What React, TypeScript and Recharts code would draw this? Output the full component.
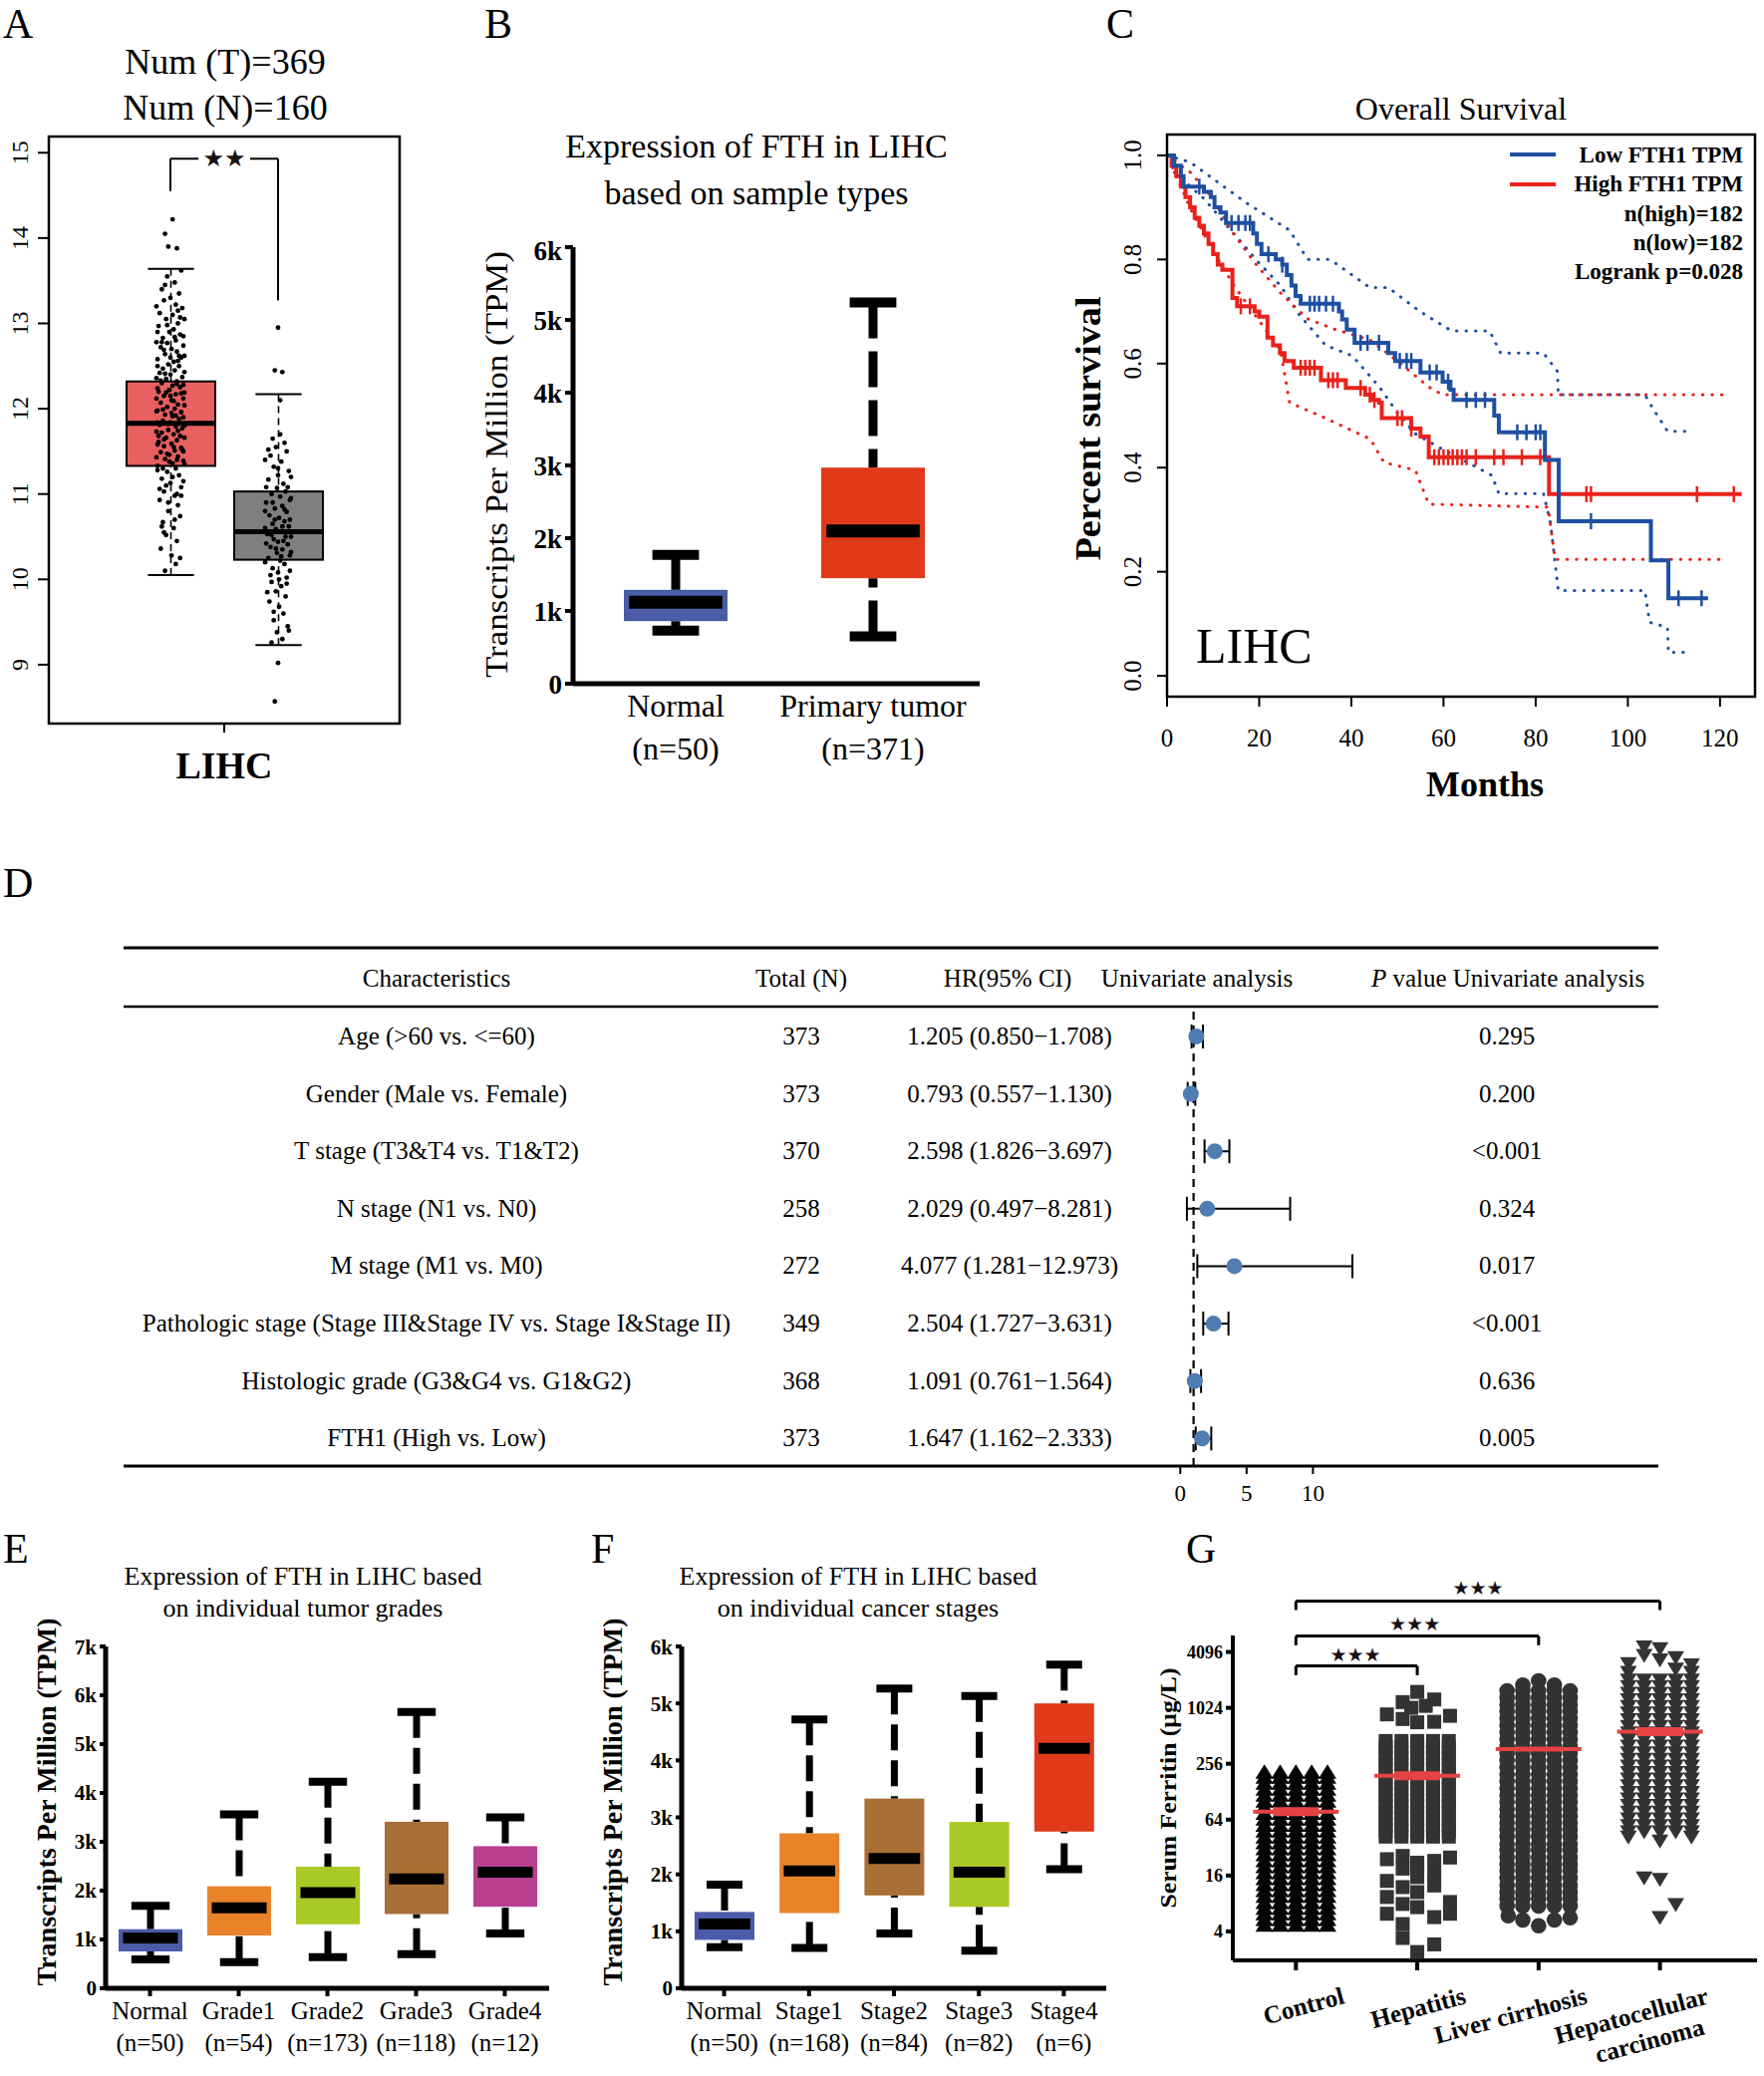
import React from "react";
import { Bar, ComposedChart, ErrorBar, Line, ReferenceDot, ReferenceLine, Scatter, XAxis, YAxis } from "recharts";

const SERIF = "'Liberation Serif', 'Times New Roman', serif";
const SYMBOL = "'DejaVu Sans', sans-serif";
const INK = "#000";

// ---------- A: GEPIA box + jitter
const aGroups = ["Tumor", "Normal"];
const aMin = [10.05, 9.23];
const aQ1 = [11.33, 10.23];
const aMed = [11.83, 10.56];
const aQ3 = [12.32, 11.03];
const aMax = [13.64, 12.17];
const aTicks = [9, 10, 11, 12, 13, 14, 15];
const aAxisLabel = "LIHC";
const aTumorDots = [
  [0.02, 14.22], [-0.05, 14.05], [-0.02, 13.9], [0.06, 13.88], [0.1, 13.62], [-0.03, 13.55], [0.04, 13.48], [-0.08, 13.4],
  [0.08, 13.35], [0.0, 13.3], [-0.06, 13.27], [0.05, 13.22], [0.11, 13.18], [-0.1, 13.12], [0.02, 13.1], [-0.04, 13.05],
  [0.07, 13.0], [-0.11, 12.97], [0.03, 12.93], [-0.01, 12.9], [0.09, 12.87], [-0.07, 12.83], [0.05, 12.8], [-0.03, 12.77],
  [0.12, 12.74], [-0.09, 12.72], [0.01, 12.7], [0.06, 12.67], [-0.05, 12.64], [0.1, 12.6], [-0.12, 12.58], [0.03, 12.55],
  [-0.02, 12.52], [0.08, 12.5], [-0.07, 12.47], [0.04, 12.45], [-0.1, 12.42], [0.0, 12.4], [0.11, 12.37], [-0.04, 12.35],
  [0.06, 12.32], [-0.08, 12.3], [0.02, 12.27], [0.09, 12.25], [-0.01, 12.22], [-0.11, 12.2], [0.05, 12.17], [-0.06, 12.15],
  [0.12, 12.12], [0.01, 12.1], [-0.09, 12.07], [0.07, 12.05], [-0.03, 12.02], [0.04, 12.0], [-0.12, 11.98], [0.1, 11.96],
  [-0.05, 11.93], [0.02, 11.91], [0.08, 11.88], [-0.07, 11.86], [0.0, 11.84], [-0.1, 11.81], [0.05, 11.79], [0.11, 11.77],
  [-0.02, 11.75], [-0.08, 11.72], [0.03, 11.7], [0.09, 11.68], [-0.04, 11.66], [0.06, 11.63], [-0.11, 11.61], [0.01, 11.59],
  [-0.06, 11.56], [0.1, 11.54], [0.04, 11.51], [-0.09, 11.49], [-0.01, 11.46], [0.07, 11.44], [-0.05, 11.41], [0.12, 11.39],
  [0.02, 11.36], [-0.12, 11.33], [0.05, 11.3], [-0.03, 11.26], [0.08, 11.22], [-0.08, 11.18], [0.0, 11.13], [0.1, 11.08],
  [-0.06, 11.03], [0.04, 10.98], [-0.1, 10.93], [0.07, 10.87], [-0.02, 10.8], [0.09, 10.74], [-0.07, 10.67], [0.03, 10.6],
  [-0.04, 10.52], [0.06, 10.45], [-0.09, 10.36], [0.01, 10.28], [0.05, 10.18], [-0.05, 10.1],
  [-0.13, 13.2], [0.13, 13.05], [-0.12, 12.9], [0.12, 12.85], [-0.13, 12.78], [0.13, 12.62], [-0.12, 12.5], [0.13, 12.43],
  [-0.13, 12.36], [0.12, 12.28], [-0.12, 12.24], [0.13, 12.19], [-0.13, 12.12], [0.13, 12.04], [-0.13, 11.97], [0.12, 11.9],
  [-0.12, 11.84], [0.13, 11.8], [-0.13, 11.73], [0.13, 11.66], [-0.12, 11.58], [0.12, 11.5], [-0.13, 11.43], [0.13, 11.35],
  [-0.12, 11.28], [0.12, 11.15], [-0.03, 12.98], [0.04, 12.84], [-0.06, 12.69], [0.07, 12.56], [-0.05, 12.41], [0.06, 12.29],
  [-0.04, 12.19], [0.03, 12.09], [-0.07, 11.99], [0.05, 11.92], [-0.02, 11.82], [0.07, 11.74], [-0.06, 11.64], [0.03, 11.55],
  [-0.03, 11.47], [0.06, 11.4], [-0.07, 11.3], [0.02, 11.2], [-0.04, 11.1], [0.06, 11.0], [-0.02, 10.9], [0.04, 10.7],
  [-0.06, 10.55], [0.09, 10.25], [-0.08, 10.62], [0.1, 10.98], [-0.1, 11.06], [0.11, 11.52], [-0.11, 11.68], [0.1, 12.18],
  [-0.09, 12.33], [0.08, 12.62], [-0.08, 12.78], [0.09, 13.07], [-0.05, 13.45], [0.07, 13.15], [0.0, 12.6], [0.01, 11.95],
  [-0.01, 11.38], [0.0, 12.15],
];
const aNormalDots = [
  [0.0, 12.95], [-0.03, 12.45], [0.04, 12.43], [0.02, 12.1], [-0.05, 11.65], [0.06, 11.6], [-0.02, 11.55], [0.08, 11.5],
  [-0.07, 11.45], [0.03, 11.38], [-0.04, 11.32], [0.1, 11.27], [0.0, 11.22], [-0.09, 11.17], [0.05, 11.12], [-0.01, 11.07],
  [0.07, 11.03], [-0.06, 11.0], [0.02, 10.97], [0.11, 10.93], [-0.11, 10.9], [0.04, 10.86], [-0.03, 10.83], [0.08, 10.79],
  [-0.08, 10.75], [0.01, 10.72], [0.06, 10.68], [-0.05, 10.65], [0.1, 10.62], [-0.02, 10.59], [0.03, 10.56], [-0.1, 10.53],
  [0.07, 10.5], [-0.04, 10.47], [0.0, 10.44], [0.09, 10.41], [-0.07, 10.38], [0.04, 10.35], [-0.01, 10.31], [0.11, 10.28],
  [-0.09, 10.25], [0.02, 10.22], [0.06, 10.18], [-0.05, 10.13], [0.0, 10.08], [0.08, 10.02], [-0.06, 9.97], [0.03, 9.92],
  [-0.02, 9.86], [0.07, 9.8], [-0.08, 9.74], [0.01, 9.68], [0.05, 9.6], [-0.04, 9.52], [0.09, 9.45], [-0.01, 9.38],
  [0.04, 9.3], [-0.06, 9.26], [0.0, 9.02], [-0.03, 8.57],
  [-0.12, 11.4], [0.12, 11.2], [-0.11, 11.08], [0.12, 10.95], [-0.12, 10.8], [0.11, 10.7], [-0.12, 10.6], [0.12, 10.5],
  [-0.11, 10.42], [0.12, 10.32], [-0.12, 10.2], [0.11, 10.1], [-0.05, 10.9], [0.06, 10.82], [-0.03, 10.7], [0.04, 10.62],
  [-0.06, 10.52], [0.05, 10.45], [-0.02, 10.36], [0.03, 10.27], [-0.07, 10.05], [0.08, 9.95], [-0.09, 11.52], [0.02, 11.7],
  [-0.04, 9.62], [0.1, 9.4], [0.01, 10.0], [-0.1, 9.85], [0.0, 11.3], [0.09, 11.08],
];
const aBracket = [[0, 14.55, 0, 14.93], [0, 14.93, 0.26, 14.93], [0.74, 14.93, 1, 14.93], [1, 14.93, 1, 13.27]];
const aStar = { x: 0.5, y: 14.93, text: "★★" };

// ---------- B: sample types
const bGroups = ["Normal", "Primary tumor"];
const bCounts = [50, 371];
const bMin = [730, 650];
const bQ1 = [860, 1450];
const bMed = [1120, 2100];
const bQ3 = [1290, 2970];
const bMax = [1770, 5240];
const bTicks = [0, 1000, 2000, 3000, 4000, 5000, 6000];
const bBracket = [[0, 5550, 0, 5630], [0, 5630, 1, 5630], [1, 5630, 1, 5550]];
const bStar = { x: 0.5, y: 5860, text: "★★" };

// ---------- C: Kaplan-Meier
const kmLow = [
  [0, 1], [1.5, 0.98], [3, 0.96], [3.6, 0.94], [8, 0.93], [9.5, 0.92], [10.3, 0.9], [11.6, 0.89], [12.8, 0.87], [18.7, 0.85],
  [19.5, 0.83], [20.5, 0.81], [23.6, 0.8], [25, 0.79], [26, 0.77], [27, 0.75], [27.9, 0.73], [29, 0.715], [37.3, 0.7],
  [38, 0.685], [39, 0.665], [40.7, 0.64], [48, 0.62], [49.5, 0.605], [55, 0.583], [59.8, 0.565], [61.5, 0.55], [62.2, 0.53],
  [71, 0.5], [72, 0.468], [82, 0.415], [85, 0.297], [105, 0.222], [108.8, 0.149], [117.4, 0.149],
];
const kmHigh = [
  [0, 1], [1, 0.98], [2, 0.96], [3, 0.94], [4, 0.92], [5, 0.9], [6, 0.88], [7, 0.865], [8, 0.85], [9, 0.83], [10, 0.81],
  [11, 0.79], [12, 0.78], [14.2, 0.726], [15.2, 0.71], [19, 0.7], [20, 0.69], [21.8, 0.65], [23, 0.635], [24.5, 0.62],
  [25.5, 0.605], [27.5, 0.592], [33.4, 0.568], [38.8, 0.553], [43, 0.54], [44.5, 0.53], [46, 0.525], [46.6, 0.495],
  [53, 0.475], [55, 0.46], [56.8, 0.42], [82.9, 0.349], [124.7, 0.349],
];
const kmLowUpper = [
  [0, 1], [5, 0.987], [17, 0.91], [26.6, 0.856], [30.5, 0.8], [35.4, 0.8], [44, 0.746], [48, 0.746], [54.9, 0.7], [61.7, 0.663],
  [70, 0.663], [72.4, 0.62], [81.7, 0.62], [84.7, 0.585], [84.9, 0.54], [103.7, 0.54], [105.7, 0.51], [108.6, 0.47], [114, 0.47],
];
const kmLowLower = [
  [1.6, 0.967], [8, 0.917], [12.9, 0.866], [19.7, 0.796], [24.6, 0.75], [28.5, 0.696], [34.4, 0.635], [40.2, 0.615],
  [46.1, 0.555], [50, 0.505], [53.9, 0.465], [59.8, 0.435], [64.2, 0.415], [70.5, 0.385], [72, 0.35], [81.7, 0.35],
  [83.2, 0.294], [84.9, 0.164], [103.7, 0.164], [104.7, 0.103], [108.6, 0.093], [108.8, 0.045], [114, 0.045],
];
const kmHighUpper = [
  [0, 1], [5.1, 0.967], [10, 0.917], [13.9, 0.856], [18.8, 0.796], [24.6, 0.736], [30.5, 0.686], [36.3, 0.666], [44.1, 0.645],
  [50, 0.605], [56.8, 0.555], [59.8, 0.54], [122, 0.54],
];
const kmHighLower = [
  [1.2, 0.977], [5.1, 0.897], [10, 0.816], [14.8, 0.746], [19.7, 0.686], [24.6, 0.626], [26.6, 0.525], [34.4, 0.495],
  [44.1, 0.455], [47.1, 0.41], [53.9, 0.395], [56.8, 0.33], [82.7, 0.324], [84.2, 0.224], [121.3, 0.224],
];
const kmLowCensor = [
  [7, 0.94], [14, 0.87], [15.5, 0.87], [17, 0.87], [18, 0.87], [22, 0.81], [25, 0.79], [31, 0.715], [32, 0.715], [33, 0.715],
  [34.5, 0.715], [36, 0.715], [42, 0.64], [43.5, 0.64], [46, 0.64], [50.5, 0.605], [52, 0.605], [53, 0.605], [57, 0.583],
  [58.5, 0.583], [61, 0.565], [65, 0.53], [67, 0.53], [69, 0.53], [76, 0.468], [78, 0.468], [80, 0.468], [81, 0.468],
  [92, 0.297], [111, 0.149], [116, 0.149],
];
const kmHighCensor = [
  [16, 0.71], [18, 0.71], [29, 0.592], [30, 0.592], [31, 0.592], [32, 0.592], [35, 0.568], [36, 0.568], [37, 0.568],
  [42, 0.553], [44, 0.54], [45, 0.53], [50, 0.495], [51, 0.495], [53, 0.475], [58, 0.42], [59, 0.42], [60, 0.42], [61, 0.42],
  [62, 0.42], [63, 0.42], [64, 0.42], [65, 0.42], [67, 0.42], [71, 0.42], [73, 0.42], [77, 0.42], [81, 0.42], [91, 0.349],
  [92, 0.349], [115, 0.349], [123, 0.349],
];
const kmXTicks = [0, 20, 40, 60, 80, 100, 120];
const kmYTicks = [0, 0.2, 0.4, 0.6, 0.8, 1];
const cLegend = ["Low FTH1 TPM", "High FTH1 TPM", "n(high)=182", "n(low)=182", "Logrank p=0.028"];

// ---------- D: univariate Cox table
const dItems = [
  "Age (>60 vs. <=60)", "Gender (Male vs. Female)", "T stage (T3&T4 vs. T1&T2)", "N stage (N1 vs. N0)",
  "M stage (M1 vs. M0)", "Pathologic stage (Stage III&Stage IV vs. Stage I&Stage II)",
  "Histologic grade (G3&G4 vs. G1&G2)", "FTH1 (High vs. Low)",
];
const dTotal = [373, 373, 370, 258, 272, 349, 368, 373];
const dHr = [1.205, 0.793, 2.598, 2.029, 4.077, 2.504, 1.091, 1.647];
const dLow = [0.85, 0.557, 1.826, 0.497, 1.281, 1.727, 0.761, 1.162];
const dHigh = [1.708, 1.13, 3.697, 8.281, 12.973, 3.631, 1.564, 2.333];
const dP = ["0.295", "0.200", "<0.001", "0.324", "0.017", "<0.001", "0.636", "0.005"];
const dTicks = [0, 5, 10];

// ---------- E: tumor grades
const eGroups = ["Normal", "Grade1", "Grade2", "Grade3", "Grade4"];
const eCounts = [50, 54, 173, 118, 12];
const eMin = [590, 535, 640, 700, 1120];
const eQ1 = [755, 1080, 1310, 1520, 1670];
const eMed = [1030, 1650, 1960, 2240, 2380];
const eQ3 = [1210, 2090, 2490, 3410, 2910];
const eMax = [1690, 3560, 4230, 5660, 3500];
const eTicks = [0, 1000, 2000, 3000, 4000, 5000, 6000, 7000];
const eBracket = [[0.17, 6500, 0.17, 6710], [0.17, 6710, 2.5, 6710], [2.5, 6710, 2.5, 6500], [1, 6500, 4, 6500]];
const eStar = { x: 1.33, y: 6930, text: "★★★" };

// ---------- F: cancer stages
const fGroups = ["Normal", "Stage1", "Stage2", "Stage3", "Stage4"];
const fCounts = [50, 168, 84, 82, 6];
const fMin = [720, 710, 960, 660, 2090];
const fQ1 = [850, 1320, 1630, 1430, 2750];
const fMed = [1130, 2060, 2280, 2040, 4210];
const fQ3 = [1340, 2720, 3330, 2920, 5000];
const fMax = [1820, 4720, 5260, 5130, 5680];
const fTicks = [0, 1000, 2000, 3000, 4000, 5000, 6000];
const fBracket = [[0, 5870, 0, 6020], [0, 6020, 2.51, 6020], [2.51, 6020, 2.51, 5870], [1, 5870, 4, 5870]];
const fStar = { x: 1.24, y: 6230, text: "★★★" };

// ---------- G: serum ferritin
const gGroups = ["Control", "Hepatitis", "Liver cirrhosis", "Hepatocellular\ncarcinoma"];
const gMedian = [78, 190, 367, 568];
const gTicks = [4, 16, 64, 256, 1024, 4096];
const gCols = [-0.26, -0.13, 0, 0.13, 0.26];
const gControlLevels = [4.6, 5.3, 6.1, 7.0, 8.1, 9.4, 10.9, 12.6, 14.6, 17, 19.7, 22.8, 26.4, 30.6, 35.5, 41, 47.5, 55, 64, 74, 86, 100, 116, 134, 156, 181, 205];
const gHepLevels = [42, 48, 56, 65, 76, 88, 102, 118, 137, 160, 186, 216, 250, 290, 336, 390, 450];
const gHepExtra = [
  [0, 1520], [-0.12, 1180], [0.14, 1260], [-0.25, 870], [0.27, 840], [-0.05, 1024], [0.07, 1075], [-0.12, 776], [0.14, 724],
  [0, 715], [-0.25, 24], [-0.12, 26], [0, 22], [0.14, 23], [0.27, 25], [-0.12, 19], [0, 20.5], [-0.25, 14], [-0.12, 12],
  [0, 15.4], [0.14, 16.7], [0.14, 12.5], [-0.25, 9.4], [-0.12, 7.9], [0, 10.6], [0.27, 8.3], [-0.25, 6.2], [-0.12, 4.8],
  [0, 7.3], [0.14, 5.7], [0.27, 6.2], [-0.12, 3.4], [0.14, 2.9], [0, 2.4],
];
const gLiverLevels = [7.5, 9, 10.5, 12.5, 15, 18, 21, 25, 30, 35, 42, 50, 59, 70, 83, 99, 117, 139, 165, 196, 233, 277, 329, 391, 465, 552, 656, 780, 927, 1100, 1310, 1560];
const gLiverExtra = [[-0.25, 5.9], [-0.13, 5.3], [0, 4.6], [0.13, 5.3], [0.26, 5.6], [0, 2000], [-0.13, 1800], [0.13, 1800]];
const gHccLevels = [48, 56, 66, 78, 92, 108, 127, 150, 177, 208, 245, 289, 340, 400, 472, 556, 655, 772, 910, 1072, 1263, 1488, 1753, 2066];
const gHccExtra = [
  [-0.13, 4700], [0, 4500], [-0.13, 3800], [0.13, 3600], [-0.26, 3100], [0, 3400], [0.26, 3000], [0.13, 2700], [-0.26, 2500],
  [0.26, 2500], [-0.26, 42], [0.26, 42], [0, 38], [-0.13, 15.3], [0, 14.7], [0.13, 7.9], [0, 5.7],
];
const gBracket = [
  [0, 2300, 0, 2900], [0, 2900, 1, 2900], [1, 2900, 1, 2300],
  [0, 4840, 0, 6080], [0, 6080, 2, 6080], [2, 6080, 2, 4840],
  [0, 11580, 0, 14470], [0, 14470, 3, 14470], [3, 14470, 3, 11580],
];
const gStars = [{ x: 0.49, y: 3870 }, { x: 0.98, y: 8300 }, { x: 1.5, y: 20200 }];

// ---------- colours / styles
const aColors = ["#E8605F", "#7F7F7F"];
const bColors = ["#4A5CA8", "#E03A1A"];
const eColors = ["#4A5CA8", "#E8832A", "#A9C927", "#A86F36", "#B8408F"];
const fColors = ["#4A5CA8", "#E8832A", "#A86F36", "#A9C927", "#E03A1A"];
const BLUE = "#1F4FA0";
const RED = "#E8211B";
const FOREST = "#4F7DB3";
const GRED = "#E54343";
const gMedThick = [9, 9, 5, 9];

type BoxStyle = { stroke: string; strokeWidth: number; whisker: number; dash: string; cap: number; capW: number; medW: number; medInset: number };
const aStyle: BoxStyle = { stroke: INK, strokeWidth: 2, whisker: 1.6, dash: "7 5", cap: 2, capW: 0.52, medW: 5, medInset: 0 };
const bStyle: BoxStyle = { stroke: "none", strokeWidth: 0, whisker: 9, dash: "36 13", cap: 10, capW: 0.45, medW: 13, medInset: 0.05 };
const efStyle: BoxStyle = { stroke: "none", strokeWidth: 0, whisker: 7, dash: "26 10", cap: 8, capW: 0.6, medW: 11, medInset: 0.07 };

const buildBoxes = (g: string[], mn: number[], q1: number[], md: number[], q3: number[], mx: number[]) =>
  g.map((name, i) => ({ name, min: mn[i], q1: q1[i], med: md[i], q3: q3[i], max: mx[i] }));
const boxRange = (d: any) => [d.min, d.max];
const toPts = (rows: number[][], off: number) => rows.map(([a, b]) => ({ x: off + a, y: b }));

function boxShape(groups: string[], colors: string[], st: BoxStyle) {
  return (p: any) => {
    const { x, y, width, height, payload } = p;
    if (!payload) return <g />;
    const { min, q1, med, q3, max } = payload;
    const py = (v: number) => y + (height * (max - v)) / (max - min);
    const cx = x + width / 2;
    const half = (width * st.capW) / 2;
    const inset = width * st.medInset;
    const fill = colors[groups.indexOf(payload.name)];
    return (
      <g>
        <line x1={cx} x2={cx} y1={py(max)} y2={py(q3)} stroke={INK} strokeWidth={st.whisker} strokeDasharray={st.dash} />
        <line x1={cx} x2={cx} y1={py(min)} y2={py(q1)} stroke={INK} strokeWidth={st.whisker} strokeDasharray={st.dash} />
        <line x1={cx - half} x2={cx + half} y1={py(max)} y2={py(max)} stroke={INK} strokeWidth={st.cap} />
        <line x1={cx - half} x2={cx + half} y1={py(min)} y2={py(min)} stroke={INK} strokeWidth={st.cap} />
        <rect x={x} y={py(q3)} width={width} height={py(q1) - py(q3)} fill={fill} stroke={st.stroke} strokeWidth={st.strokeWidth} />
        <line x1={x + inset} x2={x + width - inset} y1={py(med)} y2={py(med)} stroke={INK} strokeWidth={st.medW} />
      </g>
    );
  };
}

const rotTick = (dx: number, size: number, fmt: (v: number) => string) => (p: any) => (
  <text x={p.x + dx} y={p.y} transform={`rotate(-90 ${p.x + dx} ${p.y})`} textAnchor="middle" fontFamily={SERIF} fontSize={size} fill={INK}>
    {fmt(p.payload.value)}
  </text>
);

const nTick = (groups: string[], counts: number[], size: number, d1: number, d2: number) => (p: any) => {
  const i = groups.indexOf(p.payload.value);
  return (
    <text x={p.x} y={p.y} textAnchor="middle" fontFamily={SERIF} fontSize={size} fill={INK}>
      <tspan x={p.x} dy={d1}>{p.payload.value}</tspan>
      <tspan x={p.x} dy={d2 - d1}>{`(n=${counts[i]})`}</tspan>
    </text>
  );
};

const starShape = (text: string, size: number) => (p: any) => (
  <text x={p.cx} y={p.cy} textAnchor="middle" dominantBaseline="central" fontFamily={SYMBOL} fontSize={size} fill="#1a1010">
    {text}
  </text>
);

const kFmt = (v: number) => (v === 0 ? "0" : `${v / 1000}k`);

function segs(list: number[][], width: number, axis?: string, overflow = false) {
  return list.map((s, i) => (
    <ReferenceLine
      key={`seg${i}`}
      xAxisId={axis}
      segment={[{ x: s[0], y: s[1] }, { x: s[2], y: s[3] }]}
      stroke={INK}
      strokeWidth={width}
      ifOverflow={overflow ? "visible" : "discard"}
    />
  ));
}

// ---------- panels
const aBoxes = buildBoxes(aGroups, aMin, aQ1, aMed, aQ3, aMax);
const aDots = [...toPts(aTumorDots, 0), ...toPts(aNormalDots, 1)];

function PanelA() {
  return (
    <div style={{ position: "absolute", left: 0, top: 0 }}>
      <ComposedChart width={420} height={800} data={aBoxes} margin={{ top: 137, right: 19, bottom: 0, left: 0 }}>
        <XAxis xAxisId="c" dataKey="name" type="category" hide height={0} padding={{ left: 68, right: 68 }} />
        <XAxis
          xAxisId="n" dataKey="x" type="number" domain={[-1.13, 2.13]} ticks={[0.5]} height={74} tickSize={9} tickMargin={2}
          axisLine={false} tickLine={{ stroke: INK, strokeWidth: 2 }}
          tick={(p: any) => (
            <text x={p.x} y={p.y + 44} textAnchor="middle" fontFamily={SERIF} fontWeight="bold" fontSize={38} fill={INK}>{aAxisLabel}</text>
          )}
        />
        <YAxis type="number" domain={[8.31, 15.19]} ticks={aTicks} width={49} tickSize={11} tickMargin={2} axisLine={false}
          tickLine={{ stroke: INK, strokeWidth: 2 }} tick={rotTick(-8, 24, (v) => String(v))} />
        <Bar xAxisId="c" dataKey={boxRange} barSize={89} shape={boxShape(aGroups, aColors, aStyle)} isAnimationActive={false} />
        <Scatter xAxisId="n" data={aDots} dataKey="y" isAnimationActive={false}
          shape={(p: any) => <circle cx={p.cx} cy={p.cy} r={2.4} fill={INK} />} />
        {segs(aBracket, 2, "n")}
        <ReferenceDot xAxisId="n" x={aStar.x} y={aStar.y} ifOverflow="visible" shape={starShape(aStar.text, 24)} />
      </ComposedChart>
    </div>
  );
}

type TpmProps = {
  left: number; top: number; plotW: number; plotH: number; yAxisW: number; xAxisH: number;
  rows: any[]; groups: string[]; counts: number[]; colors: string[]; style: BoxStyle; barSize: number;
  yMax: number; yTicks: number[]; pad: { left: number; right: number }; nDomain: number[];
  bracket: number[][]; star: { x: number; y: number; text: string }; starSize: number;
  yFont: number; xFont: number; d1: number; d2: number; xTickLine: boolean; axisW: number; yTickSize: number;
};

function TpmBoxChart(pr: TpmProps) {
  const top = 12;
  return (
    <div style={{ position: "absolute", left: pr.left - pr.yAxisW, top: pr.top - top }}>
      <ComposedChart width={pr.yAxisW + pr.plotW + 10} height={top + pr.plotH + pr.xAxisH} data={pr.rows}
        margin={{ top, right: 10, bottom: 0, left: 0 }}>
        <XAxis xAxisId="c" dataKey="name" type="category" interval={0} padding={pr.pad} height={pr.xAxisH} tickSize={8} tickMargin={2}
          axisLine={{ stroke: INK, strokeWidth: pr.axisW }}
          tickLine={pr.xTickLine ? { stroke: INK, strokeWidth: 4 } : false}
          tick={nTick(pr.groups, pr.counts, pr.xFont, pr.d1, pr.d2)} />
        <XAxis xAxisId="n" dataKey="x" type="number" domain={pr.nDomain} hide height={0} />
        <YAxis type="number" domain={[0, pr.yMax]} ticks={pr.yTicks} width={pr.yAxisW} tickSize={pr.yTickSize} tickMargin={3}
          axisLine={{ stroke: INK, strokeWidth: pr.axisW }} tickLine={{ stroke: INK, strokeWidth: 4 }} tickFormatter={kFmt}
          tick={{ fontFamily: SERIF, fontSize: pr.yFont, fontWeight: 700, fill: INK }} />
        <Bar xAxisId="c" dataKey={boxRange} barSize={pr.barSize} shape={boxShape(pr.groups, pr.colors, pr.style)} isAnimationActive={false} />
        {segs(pr.bracket, 3, "n", true)}
        <ReferenceDot xAxisId="n" x={pr.star.x} y={pr.star.y} ifOverflow="visible" shape={starShape(pr.star.text, pr.starSize)} />
      </ComposedChart>
    </div>
  );
}

const kmPts = (rows: number[][]) => rows.map(([t, s]) => ({ t, s }));

function PanelC() {
  const dotted = (data: number[][], color: string, key: string) => (
    <Line key={key} data={kmPts(data)} dataKey="s" type="linear" stroke={color} strokeWidth={3} strokeDasharray="0.5 9"
      strokeLinecap="round" dot={false} isAnimationActive={false} />
  );
  const censor = (color: string) => (p: any) => (
    <line x1={p.cx} x2={p.cx} y1={p.cy - 8} y2={p.cy + 8} stroke={color} strokeWidth={2.5} />
  );
  return (
    <div style={{ position: "absolute", left: 1111, top: 135 }}>
      <ComposedChart width={655} height={624} margin={{ top: 0, right: 5, bottom: 0, left: 0 }}>
        <XAxis dataKey="t" type="number" domain={[0, 127.6]} ticks={kmXTicks} height={60} tickSize={10} tickMargin={22}
          axisLine={false} tickLine={{ stroke: INK, strokeWidth: 2 }} tick={{ fontFamily: SERIF, fontSize: 25, fill: INK }} />
        <YAxis type="number" domain={[-0.04, 1.04]} ticks={kmYTicks} width={60} tickSize={10} tickMargin={2} axisLine={false}
          tickLine={{ stroke: INK, strokeWidth: 2 }} tick={rotTick(-14, 25, (v) => v.toFixed(1))} />
        {dotted(kmLowUpper, BLUE, "lu")}
        {dotted(kmLowLower, BLUE, "ll")}
        {dotted(kmHighUpper, RED, "hu")}
        {dotted(kmHighLower, RED, "hl")}
        <Line data={kmPts(kmHigh)} dataKey="s" type="stepAfter" stroke={RED} strokeWidth={4} dot={false} isAnimationActive={false} />
        <Line data={kmPts(kmLow)} dataKey="s" type="stepAfter" stroke={BLUE} strokeWidth={4} dot={false} isAnimationActive={false} />
        <Scatter data={kmPts(kmHighCensor)} dataKey="s" shape={censor(RED)} isAnimationActive={false} />
        <Scatter data={kmPts(kmLowCensor)} dataKey="s" shape={censor(BLUE)} isAnimationActive={false} />
      </ComposedChart>
    </div>
  );
}

const dForest = dHr.map((hr, i) => ({ hr, row: i, err: [hr - dLow[i], dHigh[i] - hr] }));

function PanelD() {
  return (
    <div style={{ position: "absolute", left: 1171, top: 1010 }}>
      <ComposedChart width={193} height={511} margin={{ top: 0, right: 0, bottom: 0, left: 0 }}>
        <XAxis dataKey="hr" type="number" domain={[-1, 13.5]} ticks={dTicks} height={50} tickSize={8} tickMargin={11}
          axisLine={false} tickLine={{ stroke: INK, strokeWidth: 2 }} tick={{ fontFamily: SERIF, fontSize: 23, fill: INK }} />
        <YAxis dataKey="row" type="number" domain={[-0.52, 7.48]} reversed hide width={0} />
        <ReferenceLine x={1} stroke={INK} strokeWidth={2.2} strokeDasharray="8 6" />
        <Scatter data={dForest} dataKey="row" isAnimationActive={false}
          shape={(p: any) => <circle cx={p.cx} cy={p.cy} r={8} fill={FOREST} />}>
          <ErrorBar dataKey="err" direction="x" width={12} stroke={INK} strokeWidth={2} />
        </Scatter>
      </ComposedChart>
    </div>
  );
}

const gPts = (gi: number, levels: number[], extra: number[][]) => [
  ...levels.flatMap((v) => gCols.map((c) => ({ x: gi + c, y: v }))),
  ...toPts(extra, gi),
];
const gControl = gPts(0, gControlLevels, []);
const gHep = gPts(1, gHepLevels, gHepExtra);
const gLiver = gPts(2, gLiverLevels, gLiverExtra);
const gHcc = gPts(3, gHccLevels, gHccExtra);
const gMedianPts = gMedian.map((m, i) => ({ x: i, y: m, w: gMedThick[i] }));

const triUp = (c: string) => (p: any) => (
  <polygon points={`${p.cx},${p.cy - 8.5} ${p.cx + 9},${p.cy + 6} ${p.cx - 9},${p.cy + 6}`} fill={c} />
);
const triDown = (c: string) => (p: any) => (
  <polygon points={`${p.cx - 8.5},${p.cy - 6} ${p.cx + 8.5},${p.cy - 6} ${p.cx},${p.cy + 8}`} fill={c} />
);
const square = (c: string) => (p: any) => <rect x={p.cx - 7} y={p.cy - 7} width={14} height={14} fill={c} />;
const disc = (c: string) => (p: any) => <circle cx={p.cx} cy={p.cy} r={7.8} fill={c} />;
const medianBar = (p: any) => (
  <g>
    <line x1={p.cx - 43} x2={p.cx + 43} y1={p.cy} y2={p.cy} stroke={GRED} strokeWidth={4} />
    <line x1={p.cx - 23} x2={p.cx + 23} y1={p.cy} y2={p.cy} stroke={GRED} strokeWidth={p.payload.w} />
  </g>
);

function GTick(p: any) {
  const lines = gGroups[p.payload.value].split("\n");
  const ex = p.x + 50;
  const ey = p.y + 31;
  return (
    <text transform={`rotate(-15 ${ex} ${ey})`} fontFamily={SERIF} fontWeight="bold" fontSize={25} fill={INK}>
      <tspan x={ex} y={ey} textAnchor="end">{lines[0]}</tspan>
      {lines[1] ? <tspan x={ex - 68} y={ey + 29} textAnchor="middle">{lines[1]}</tspan> : null}
    </text>
  );
}

function PanelG() {
  return (
    <div style={{ position: "absolute", left: 1167, top: 1561 }}>
      <ComposedChart width={601} height={522} margin={{ top: 80, right: 5, bottom: 6, left: 0 }}>
        <XAxis dataKey="x" type="number" domain={[-0.52, 3.8]} ticks={[0, 1, 2, 3]} height={110} tickSize={10} tickMargin={2}
          axisLine={{ stroke: INK, strokeWidth: 4 }} tickLine={{ stroke: INK, strokeWidth: 4 }} tick={GTick} />
        <YAxis type="number" scale="log" domain={[1.95, 6160]} ticks={gTicks} width={70} tickSize={7} tickMargin={3}
          axisLine={{ stroke: INK, strokeWidth: 4 }} tickLine={{ stroke: INK, strokeWidth: 4 }}
          tick={{ fontFamily: SERIF, fontSize: 18, fontWeight: 700, fill: INK }} />
        <Scatter data={gControl} dataKey="y" shape={triUp("#050505")} isAnimationActive={false} />
        <Scatter data={gHep} dataKey="y" shape={square("#333")} isAnimationActive={false} />
        <Scatter data={gLiver} dataKey="y" shape={disc("#333")} isAnimationActive={false} />
        <Scatter data={gHcc} dataKey="y" shape={triDown("#333")} isAnimationActive={false} />
        <Scatter data={gMedianPts} dataKey="y" shape={medianBar} isAnimationActive={false} />
        {segs(gBracket, 3, undefined, true)}
        {gStars.map((s, i) => (
          <ReferenceDot key={`gs${i}`} x={s.x} y={s.y} ifOverflow="visible" shape={starShape("★★★", 19)} />
        ))}
      </ComposedChart>
    </div>
  );
}

// ---------- static text layer
const T = (props: any) => <text fontFamily={SERIF} fill={INK} {...props} />;
const VT = ({ x, y, len, ...rest }: any) => (
  <T x={x} y={y} transform={`rotate(-90 ${x} ${y})`} textAnchor="middle" textLength={len} lengthAdjust="spacingAndGlyphs" {...rest} />
);

function Overlay() {
  const rowY = (i: number) => 1048 + 57.6 * i;
  const fmt = (v: number) => v.toFixed(3);
  return (
    <svg width={1770} height={2083} style={{ position: "absolute", left: 0, top: 0, pointerEvents: "none" }}>
      {[["A", 3, 38], ["B", 486, 38], ["C", 1110, 38], ["D", 3, 900], ["E", 3, 1568], ["F", 593, 1568], ["G", 1190, 1568]].map(
        ([l, x, y]) => <T key={l as string} x={x} y={y} fontSize={42}>{l}</T>
      )}
      {/* A */}
      <T x={226} y={74} fontSize={36} textAnchor="middle">Num (T)=369</T>
      <T x={226} y={120} fontSize={36} textAnchor="middle">Num (N)=160</T>
      <rect x={49} y={137} width={352} height={589} fill="none" stroke={INK} strokeWidth={2.5} />
      {/* B */}
      <T x={759} y={158} fontSize={34} textAnchor="middle">Expression of FTH in LIHC</T>
      <T x={759} y={205} fontSize={34} textAnchor="middle">based on sample types</T>
      <VT x={509} y={466} len={428} fontSize={32}>Transcripts Per Million (TPM)</VT>
      {/* C */}
      <T x={1466} y={120} fontSize={32} textAnchor="middle">Overall Survival</T>
      <rect x={1171} y={135} width={590} height={564} fill="none" stroke={INK} strokeWidth={2.5} />
      <VT x={1104} y={430} len={265} fontSize={36} fontWeight="bold">Percent survival</VT>
      <T x={1490} y={799} fontSize={36} fontWeight="bold" textAnchor="middle">Months</T>
      <line x1={1515} x2={1561} y1={155} y2={155} stroke={BLUE} strokeWidth={4} />
      <line x1={1515} x2={1561} y1={185} y2={185} stroke={RED} strokeWidth={4} />
      {cLegend.map((s, i) => (
        <T key={s} x={1749} y={163 + 29.3 * i} fontSize={23} fontWeight="bold" textAnchor="end">{s}</T>
      ))}
      <T x={1200} y={665} fontSize={50}>LIHC</T>
      {/* D */}
      <line x1={124} x2={1664} y1={951} y2={951} stroke={INK} strokeWidth={3} />
      <line x1={124} x2={1664} y1={1010} y2={1010} stroke={INK} strokeWidth={2.5} />
      <line x1={124} x2={1664} y1={1471} y2={1471} stroke={INK} strokeWidth={3} />
      <T x={438} y={990} fontSize={25} textAnchor="middle">Characteristics</T>
      <T x={804} y={990} fontSize={25} textAnchor="middle">Total (N)</T>
      <T x={1011} y={990} fontSize={25} textAnchor="middle">HR(95% CI)</T>
      <T x={1201} y={990} fontSize={25} textAnchor="middle">Univariate analysis</T>
      <T x={1513} y={990} fontSize={25} textAnchor="middle"><tspan fontStyle="italic">P</tspan> value Univariate analysis</T>
      {dItems.map((s, i) => (
        <g key={s}>
          <T x={438} y={rowY(i)} fontSize={25} textAnchor="middle">{s}</T>
          <T x={804} y={rowY(i)} fontSize={25} textAnchor="middle">{dTotal[i]}</T>
          <T x={1013} y={rowY(i)} fontSize={25} textAnchor="middle">{`${fmt(dHr[i])} (${fmt(dLow[i])}\u2212${fmt(dHigh[i])})`}</T>
          <T x={1512} y={rowY(i)} fontSize={25} textAnchor="middle">{dP[i]}</T>
        </g>
      ))}
      {/* E */}
      <T x={304} y={1590} fontSize={26} textAnchor="middle">Expression of FTH in LIHC based</T>
      <T x={304} y={1622} fontSize={26} textAnchor="middle">on individual tumor grades</T>
      <VT x={56} y={1808} len={369} fontSize={28} fontWeight="bold">Transcripts Per Million (TPM)</VT>
      {/* F */}
      <T x={861} y={1590} fontSize={26} textAnchor="middle">Expression of FTH in LIHC based</T>
      <T x={861} y={1622} fontSize={26} textAnchor="middle">on individual cancer stages</T>
      <VT x={624} y={1808} len={369} fontSize={28} fontWeight="bold">Transcripts Per Million (TPM)</VT>
      {/* G */}
      <VT x={1180} y={1794} len={241} fontSize={24} fontWeight="bold">Serum Ferritin (μg/L)</VT>
    </svg>
  );
}

export default function App() {
  return (
    <div style={{ position: "absolute", left: 0, top: 0, width: 1770, height: 2083, background: "#fff", overflow: "hidden" }}>
      <PanelA />
      <TpmBoxChart left={575} top={248} plotW={408} plotH={438} yAxisW={70} xAxisH={95}
        rows={buildBoxes(bGroups, bMin, bQ1, bMed, bQ3, bMax)} groups={bGroups} counts={bCounts} colors={bColors}
        style={bStyle} barSize={104} yMax={6000} yTicks={bTicks} pad={{ left: 4, right: 8 }} nDomain={[-0.52, 1.54]}
        bracket={bBracket} star={bStar} starSize={24} yFont={27} xFont={32} d1={23} d2={66} xTickLine={false} axisW={5} yTickSize={8} />
      <PanelC />
      <PanelD />
      <TpmBoxChart left={106} top={1652} plotW={445} plotH={343} yAxisW={60} xAxisH={75}
        rows={buildBoxes(eGroups, eMin, eQ1, eMed, eQ3, eMax)} groups={eGroups} counts={eCounts} colors={eColors}
        style={efStyle} barSize={64} yMax={7000} yTicks={eTicks} pad={{ left: 0, right: 0 }} nDomain={[-0.5, 4.5]}
        bracket={eBracket} star={eStar} starSize={20} yFont={21} xFont={25} d1={21} d2={53} xTickLine={true} axisW={5} yTickSize={6} />
      <TpmBoxChart left={684} top={1652} plotW={426} plotH={343} yAxisW={60} xAxisH={75}
        rows={buildBoxes(fGroups, fMin, fQ1, fMed, fQ3, fMax)} groups={fGroups} counts={fCounts} colors={fColors}
        style={efStyle} barSize={60} yMax={6000} yTicks={fTicks} pad={{ left: 0, right: 0 }} nDomain={[-0.5, 4.5]}
        bracket={fBracket} star={fStar} starSize={20} yFont={21} xFont={25} d1={21} d2={53} xTickLine={true} axisW={5} yTickSize={6} />
      <PanelG />
      <Overlay />
    </div>
  );
}
